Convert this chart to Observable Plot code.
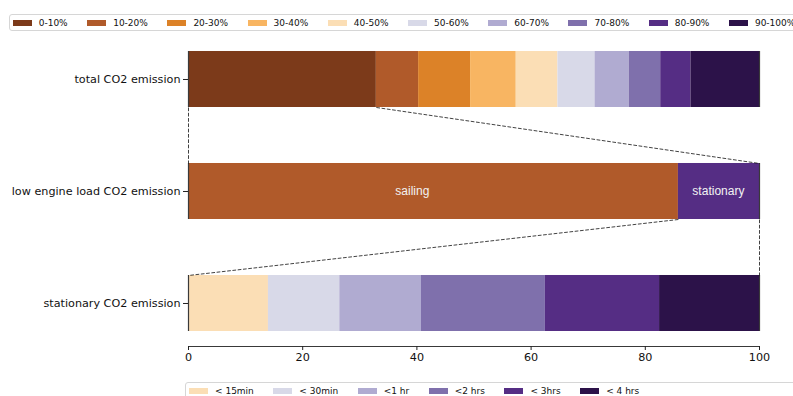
<!DOCTYPE html>
<html>
<head>
<meta charset="utf-8">
<script src="https://cdn.jsdelivr.net/npm/d3@7"></script>
<script src="https://cdn.jsdelivr.net/npm/@observablehq/plot@0.6"></script>
<style>
  html, body { margin: 0; padding: 0; background: #fff; }
  #page { position: relative; width: 793px; height: 396px; overflow: hidden; font-family: "DejaVu Sans", sans-serif; }
  #chart { position: absolute; left: 0; top: 38px; }
  .legend { position: absolute; height: 17px; box-sizing: border-box; border: 1px solid #d6d6d6; border-radius: 3px;
            display: flex; align-items: center; gap: 19.5px; font-size: 9px; color: #111; white-space: nowrap; background: #fff; }
  .legend .item { display: flex; align-items: center; }
  .legend .sw { width: 19px; height: 6px; margin-right: 7px; }
  #legend-top { left: 9px; top: 14px; width: 820px; padding-left: 2.7px; }
  #legend-bottom { left: 185px; top: 382px; width: 640px; padding-left: 3px; }
</style>
</head>
<body>
<div id="page">
  <div id="legend-top" class="legend"></div>
  <div id="chart"></div>
  <div id="legend-bottom" class="legend"></div>
</div>
<script>
// Rows of the chart, top to bottom
const rows = ["total CO2 emission", "low engine load CO2 emission", "stationary CO2 emission"];

// Engine load bins and their share of total CO2 (%)
const loadBins = ["0-10%", "10-20%", "20-30%", "30-40%", "40-50%", "50-60%", "60-70%", "70-80%", "80-90%", "90-100%"];
const loadColors = ["#7c3a1a", "#b05a2a", "#dc8228", "#f8b562", "#fbdeb5", "#d8d9e8", "#b0abd1", "#7f70ac", "#552d84", "#2c1249"];
const totalShares = [32.9, 7.4, 9.1, 8.0, 7.3, 6.5, 6.0, 5.5, 5.3, 12.0];

// Low engine load emission split by operating mode (%)
const modes = ["sailing", "stationary"];
const modeShares = [85.8, 14.2];
const modeColors = [loadColors[1], loadColors[8]];
const modeLabelX = [39.2, 92.8];

// Stationary emission split by stop duration (%)
const durations = ["< 15min", "< 30min", "<1 hr", "<2 hrs", "< 3hrs", "< 4 hrs"];
const durationShares = [14.0, 12.5, 14.3, 21.7, 20.0, 17.5];
const durationColors = loadColors.slice(4);

const xTicks = [0, 20, 40, 60, 80, 100];

// Build stacked segments for one row
function segments(row, names, shares, colors) {
  const ends = d3.cumsum(shares);
  return names.map((name, i) => ({row, name, x1: ends[i] - shares[i], x2: ends[i], color: colors[i]}));
}

const bars = [
  ...segments(0, loadBins, totalShares, loadColors),
  ...segments(1, modes, modeShares, modeColors),
  ...segments(2, durations, durationShares, durationColors)
];

const half = 0.25;           // half bar thickness, in row units
const padTop = 0.366, padBottom = 0.384;

// Dashed connectors showing which part of a bar is broken down below
const zoomLinks = [
  {x1: 0, r1: 0, x2: 0, r2: 1},
  {x1: totalShares[0], r1: 0, x2: 100, r2: 1},
  {x1: modeShares[0], r1: 1, x2: 0, r2: 2},
  {x1: 100, r1: 1, x2: 100, r2: 2}
].map(d => ({x1: d.x1, y1: d.r1 + half, x2: d.x2, y2: d.r2 - half}));

const edges = rows.flatMap((_, r) => [0, 100].map(x => ({x, r})));
const modeLabels = modes.map((m, i) => ({x: modeLabelX[i], text: m}));

const chart = Plot.plot({
  width: 793,
  height: 338,
  marginLeft: 188,
  marginRight: 34,
  marginTop: 0,
  marginBottom: 30,
  style: {fontFamily: "DejaVu Sans, sans-serif", fontSize: "11.2px", color: "#111", background: "transparent"},
  x: {domain: [0, 100]},
  y: {domain: [-padTop, 2 + padBottom], reverse: true},
  color: {type: "identity"},
  marks: [
    Plot.rectX(bars, {x1: "x1", x2: "x2", y1: d => d.row - half, y2: d => d.row + half, fill: "color"}),
    Plot.ruleX(edges, {x: "x", y1: d => d.r - half, y2: d => d.r + half, stroke: "#3a3a3a", strokeWidth: 1.2}),
    Plot.link(zoomLinks, {x1: "x1", y1: "y1", x2: "x2", y2: "y2", stroke: "#111", strokeWidth: 0.8, strokeDasharray: "3.7,1.6"}),
    Plot.text(modeLabels, {x: "x", y: () => 1, text: "text", fill: "#f2f2f2", fontSize: 12, fontFamily: "Liberation Sans, Arial, sans-serif"}),
    Plot.ruleY([2 + padBottom], {x1: 0, x2: 100, stroke: "#222", strokeWidth: 0.9}),
    Plot.axisX(xTicks, {tickSize: 4, tickPadding: 3, label: null, stroke: "#222"}),
    Plot.axisY([0, 1, 2], {tickFormat: i => rows[i], tickSize: 5, tickPadding: 3, label: null, stroke: "#222"})
  ]
});
document.getElementById("chart").appendChild(chart);

// Legends
function legend(el, names, colors) {
  names.forEach((n, i) => {
    const item = document.createElement("div");
    item.className = "item";
    item.innerHTML = `<span class="sw" style="background:${colors[i]}"></span><span>${n}</span>`;
    el.appendChild(item);
  });
}
legend(document.getElementById("legend-top"), loadBins, loadColors);
legend(document.getElementById("legend-bottom"), durations, durationColors);
</script>
</body>
</html>
